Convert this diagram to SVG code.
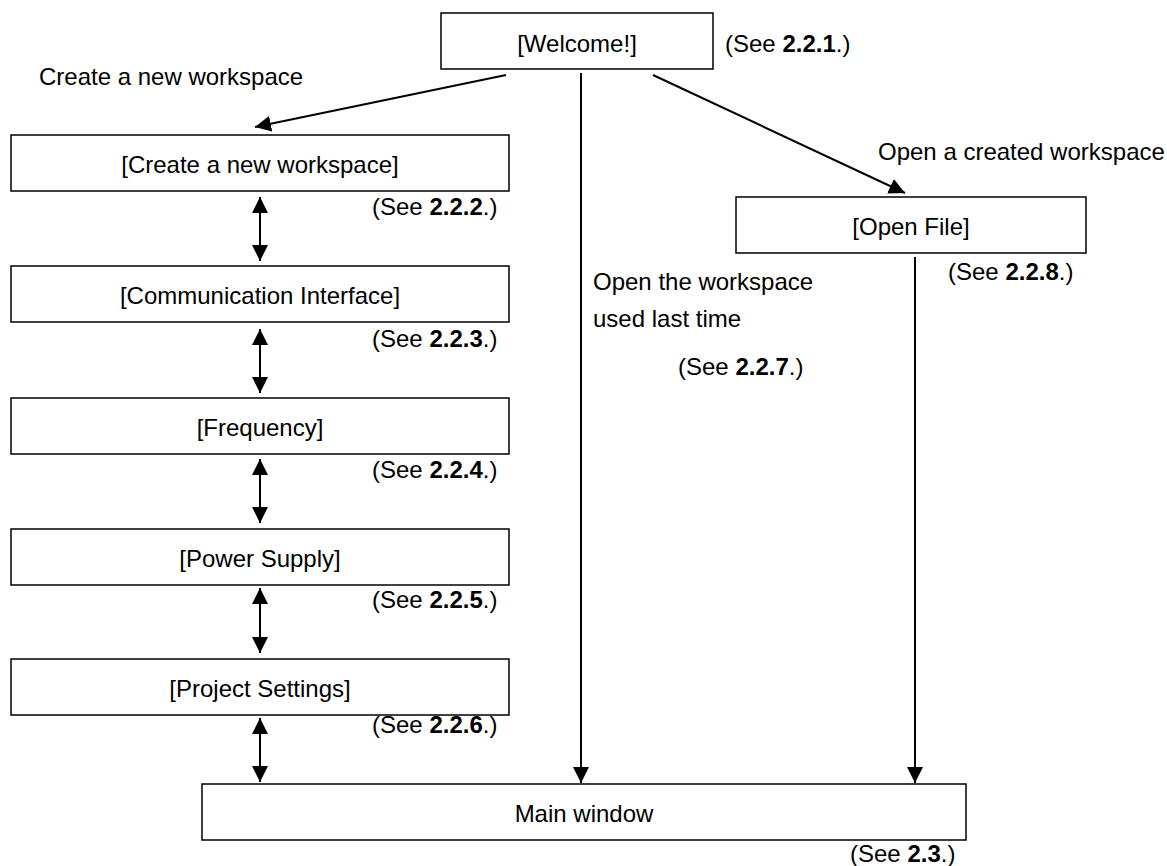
<svg xmlns="http://www.w3.org/2000/svg" width="1167" height="866" viewBox="0 0 1167 866">
<style>
  .box { fill: #ffffff; stroke: #000000; stroke-width: 1.5; }
  .t { font-family: "Liberation Sans", Arial, sans-serif; font-size: 24px; fill: #000000; }
  .c { text-anchor: middle; }
  .b { font-weight: bold; }
  .conn { stroke: #000000; stroke-width: 2; fill: none; }
</style>
<defs>
  <marker id="ah" markerUnits="userSpaceOnUse" markerWidth="16" markerHeight="16" refX="16" refY="8" orient="auto-start-reverse">
    <path d="M0,0 L16,8 L0,16 z" fill="#000000"/>
  </marker>
</defs>
<rect width="1167" height="866" fill="#ffffff"/>

<g id="connectors">
  <line class="conn" x1="506" y1="75" x2="255" y2="127" marker-end="url(#ah)"/>
  <line class="conn" x1="653" y1="75" x2="905" y2="193" marker-end="url(#ah)"/>
  <line class="conn" x1="581" y1="73" x2="581" y2="783" marker-end="url(#ah)"/>
  <line class="conn" x1="915" y1="257" x2="915" y2="783" marker-end="url(#ah)"/>
  <line class="conn" x1="260" y1="197" x2="260" y2="261" marker-start="url(#ah)" marker-end="url(#ah)"/>
  <line class="conn" x1="260" y1="329" x2="260" y2="393" marker-start="url(#ah)" marker-end="url(#ah)"/>
  <line class="conn" x1="260" y1="459" x2="260" y2="523" marker-start="url(#ah)" marker-end="url(#ah)"/>
  <line class="conn" x1="260" y1="588" x2="260" y2="653" marker-start="url(#ah)" marker-end="url(#ah)"/>
  <line class="conn" x1="260" y1="718" x2="260" y2="782" marker-start="url(#ah)" marker-end="url(#ah)"/>
</g>

<g id="labels">
  <text class="t" x="39" y="85">Create a new workspace</text>
  <text class="t" x="878" y="160">Open a created workspace</text>
  <text class="t" x="593" y="290">Open the workspace</text>
  <text class="t" x="593" y="327">used last time</text>
  <text class="t" x="678" y="375">(See <tspan class="b">2.2.7</tspan>.)</text>
</g>

<g id="welcome">
  <rect class="box" x="441" y="13" width="272" height="56"/>
  <text class="t c" x="577" y="52">[Welcome!]</text>
  <text class="t" x="725" y="52">(See <tspan class="b">2.2.1</tspan>.)</text>
</g>

<g id="create">
  <rect class="box" x="11" y="135" width="498" height="56"/>
  <text class="t c" x="260" y="173">[Create a new workspace]</text>
  <text class="t" x="372" y="215">(See <tspan class="b">2.2.2</tspan>.)</text>
</g>

<g id="comm">
  <rect class="box" x="11" y="266" width="498" height="56"/>
  <text class="t c" x="260" y="304">[Communication Interface]</text>
  <text class="t" x="372" y="347">(See <tspan class="b">2.2.3</tspan>.)</text>
</g>

<g id="frequency">
  <rect class="box" x="11" y="398" width="498" height="56"/>
  <text class="t c" x="260" y="436">[Frequency]</text>
  <text class="t" x="372" y="478">(See <tspan class="b">2.2.4</tspan>.)</text>
</g>

<g id="power">
  <rect class="box" x="11" y="529" width="498" height="56"/>
  <text class="t c" x="260" y="567">[Power Supply]</text>
  <text class="t" x="372" y="608">(See <tspan class="b">2.2.5</tspan>.)</text>
</g>

<g id="project">
  <rect class="box" x="11" y="659" width="498" height="56"/>
  <text class="t c" x="260" y="697">[Project Settings]</text>
  <text class="t" x="372" y="733">(See <tspan class="b">2.2.6</tspan>.)</text>
</g>

<g id="openfile">
  <rect class="box" x="736" y="197" width="350" height="56"/>
  <text class="t c" x="911" y="235">[Open File]</text>
  <text class="t" x="948" y="280">(See <tspan class="b">2.2.8</tspan>.)</text>
</g>

<g id="mainwindow">
  <rect class="box" x="202" y="784" width="764" height="56"/>
  <text class="t c" x="584" y="822">Main window</text>
  <text class="t" x="850" y="862">(See <tspan class="b">2.3</tspan>.)</text>
</g>
</svg>
